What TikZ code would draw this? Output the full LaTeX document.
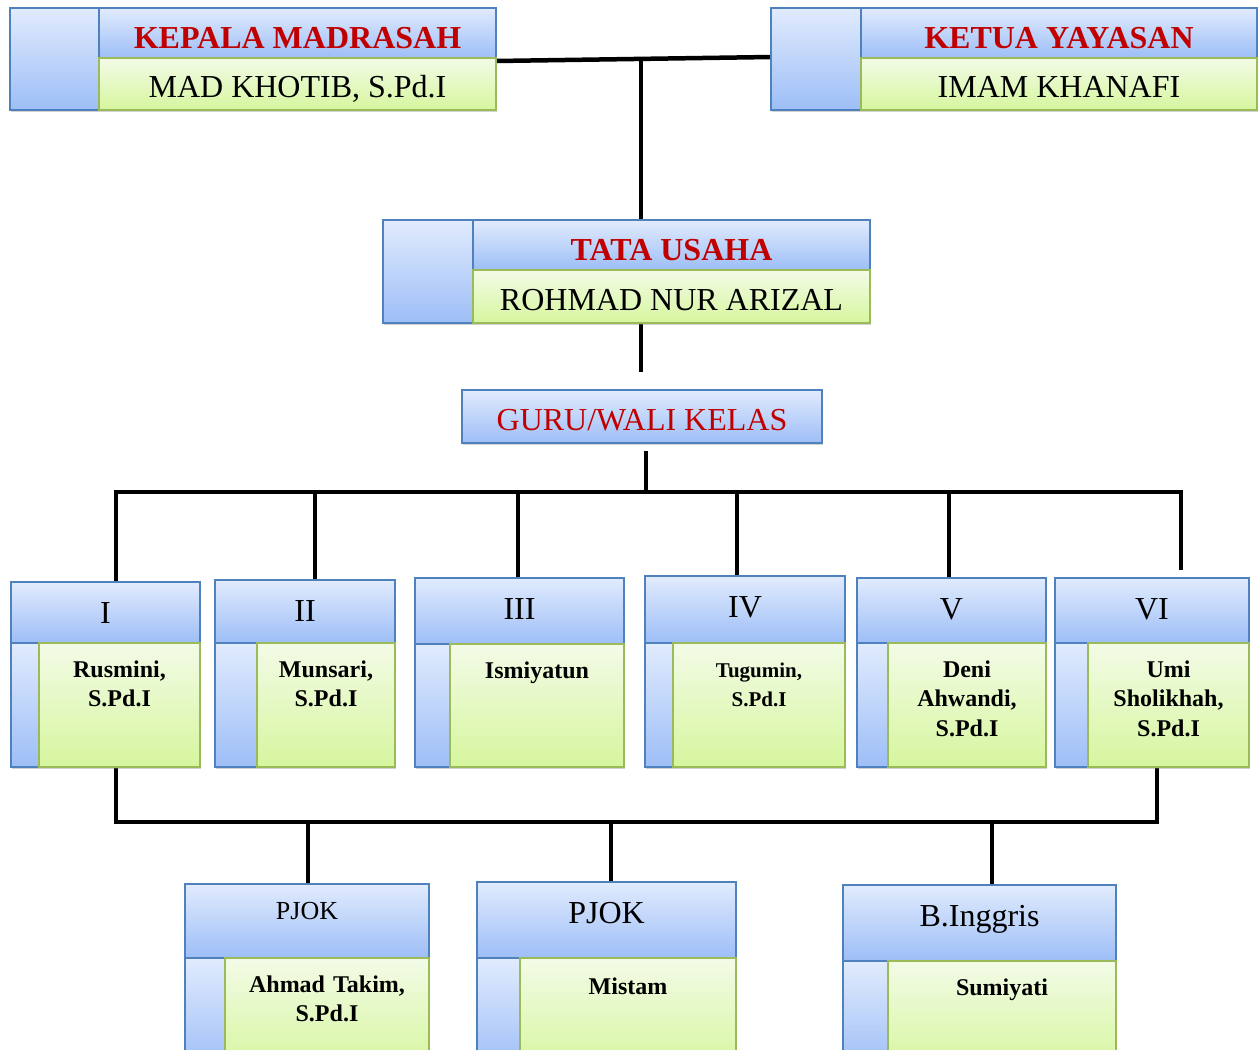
\documentclass[tikz,border=0pt]{standalone}
\usepackage{fontspec}
\setmainfont{Liberation Serif}
\usetikzlibrary{shadows}
\definecolor{bluetop}{RGB}{225,235,253}
\definecolor{bluebot}{RGB}{157,190,247}
\definecolor{greentop}{RGB}{243,251,231}
\definecolor{greenbot}{RGB}{214,246,158}
\definecolor{bordblue}{RGB}{79,129,189}
\definecolor{bordgreen}{RGB}{155,187,89}
\definecolor{redtxt}{RGB}{192,0,0}
\pgfdeclarelayer{background}
\pgfdeclarelayer{paper}
\pgfsetlayers{paper,background,main}
\tikzset{
  boxbase/.style={rectangle, inner sep=0pt, outer sep=0pt, line width=1.4pt, anchor=north west,
    drop shadow={shadow xshift=1pt, shadow yshift=-2pt, opacity=0.35}},
  bluebox/.style={boxbase, draw=bordblue, top color=bluetop, bottom color=bluebot},
  greenbox/.style={boxbase, draw=bordgreen, top color=greentop, bottom color=greenbot},
  headtitle/.style={inner sep=0pt, anchor=base, text=redtxt, font=\fontsize{32}{38}\selectfont\bfseries},
  headname/.style={inner sep=0pt, anchor=base, font=\fontsize{32}{38}\selectfont},
  classtitle/.style={inner sep=0pt, anchor=base, font=\fontsize{32}{38}\selectfont},
  classname/.style={inner sep=0pt, anchor=base, align=center, font=\fontsize{24}{29.5}\selectfont\bfseries},
  conn/.style={line width=4.5pt, line cap=rect, black},
}
% head box: name, x1, y1, x2, ytitle, xcol, y2, title, person
\newcommand{\headbox}[9]{%
  \node[bluebox, minimum width={(#6-#2)*1pt}, minimum height={(#7-#3)*1pt}] (#1-c) at (#2,#3) {};
  \node[bluebox, minimum width={(#4-#6)*1pt}, minimum height={(#5-#3)*1pt}] (#1-t) at (#6,#3) {};
  \node[greenbox, minimum width={(#4-#6)*1pt}, minimum height={(#7-#5)*1pt}] (#1-n) at (#6,#5) {};
  \node[headtitle] (#1-tt) at ({(#6+#4)/2},{#5-10}) {#8};
  \node[headname] (#1-nt) at ({(#6+#4)/2},{#7-13}) {#9};
}
% class box: name, x1, y1, x2, ytitle, xcol, y2, title, person
\newcommand{\classbox}[9]{%
  \node[bluebox, minimum width={(#4-#2)*1pt}, minimum height={(#5-#3)*1pt}] (#1-t) at (#2,#3) {};
  \node[bluebox, minimum width={(#6-#2)*1pt}, minimum height={(#7-#5)*1pt}] (#1-c) at (#2,#5) {};
  \node[greenbox, minimum width={(#4-#6)*1pt}, minimum height={(#7-#5)*1pt}] (#1-n) at (#6,#5) {};
  \node[classtitle] (#1-tt) at ({(#2+#4)/2},{#3+41}) {#8};
  \node[classname, text width={(#4-#6-8)*1pt}] (#1-nt) at ({(#6+#4)/2},{#5+34}) {#9};
}
\begin{document}
\begin{tikzpicture}[x=1pt, y=-1pt]
\begin{pgfonlayer}{paper}
\fill[white] (0,0) rectangle (1259,1050);
\end{pgfonlayer}
\useasboundingbox (0,0) rectangle (1259,1050);

\headbox{km}{10}{8}{496}{58}{99}{110}{KEPALA MADRASAH}{MAD KHOTIB, S.Pd.I}
\headbox{ky}{771}{8}{1257}{58}{861}{110}{KETUA YAYASAN}{IMAM KHANAFI}
\headbox{tu}{383}{220}{870}{270}{473}{323}{TATA USAHA}{ROHMAD NUR ARIZAL}

\node[bluebox, minimum width=360pt, minimum height=53pt] (guru) at (462,390) {};
\node[inner sep=0pt, anchor=base, text=redtxt, font=\fontsize{32}{38}\selectfont] (guru-t) at (642,430) {GURU/WALI KELAS};

\classbox{i}{11}{582}{200}{643}{39}{767}{I}{Rusmini,\\S.Pd.I}
\classbox{ii}{215}{580}{395}{643}{257}{767}{II}{Munsari,\\S.Pd.I}
\classbox{iii}{415}{578}{624}{644}{450}{767}{III}{Ismiyatun}
\classbox{iv}{645}{576}{845}{643}{673}{767}{IV}{\fontsize{21}{25}\selectfont Tugumin,\\S.Pd.I}
\classbox{v}{857}{578}{1046}{643}{888}{767}{V}{Deni\\Ahwandi,\\S.Pd.I}
\classbox{vi}{1055}{578}{1249}{643}{1088}{767}{VI}{Umi\\Sholikhah,\\S.Pd.I}

\classbox{b1}{185}{884}{429}{958}{225}{1070}{\fontsize{26}{30}\selectfont\raisebox{6pt}{PJOK}}{Ahmad Takim,\\S.Pd.I}
\classbox{b2}{477}{882}{736}{958}{520}{1070}{PJOK}{\raisebox{-2pt}{Mistam}}
\classbox{b3}{843}{885}{1116}{961}{888}{1070}{B.Inggris}{Sumiyati}

\begin{pgfonlayer}{background}
  % top level
  \draw[conn] ([yshift=-3pt]km-n.north east) -- ([yshift=2pt]ky-c.west);
  \coordinate (j1) at (641,60);
  \draw[conn] (j1) -- (j1 |- tu-t.north);
  \draw[conn] (tu-n.south -| j1) -- ++(0,47);
  % guru to classes
  \coordinate (bus) at (646,492);
  \draw[conn] ([yshift=-10pt]guru.south -| bus) -- (bus);
  \coordinate (busL) at (116,492);
  \coordinate (busR) at (1181,492);
  \draw[conn] (busL) -- (busR);
  \draw[conn] (busL) -- (busL |- i-t.north);
  \draw[conn] (315,492) -- (315,492 |- ii-t.north);
  \draw[conn] (518,492) -- (518,492 |- iii-t.north);
  \draw[conn] (737,492) -- (737,492 |- iv-t.north);
  \draw[conn] (949,492) -- (949,492 |- v-t.north);
  \draw[conn] (busR) -- (1181,568);
  % classes to subjects
  \coordinate (lowL) at (116,822);
  \coordinate (lowR) at (1157,822);
  \draw[conn] (lowL |- i-n.south) -- (lowL) -- (lowR) -- (lowR |- vi-n.south);
  \draw[conn] (308,822) -- (308,822 |- b1-t.north);
  \draw[conn] (611,822) -- (611,822 |- b2-t.north);
  \draw[conn] (992,822) -- (992,822 |- b3-t.north);
\end{pgfonlayer}
\end{tikzpicture}
\end{document}
